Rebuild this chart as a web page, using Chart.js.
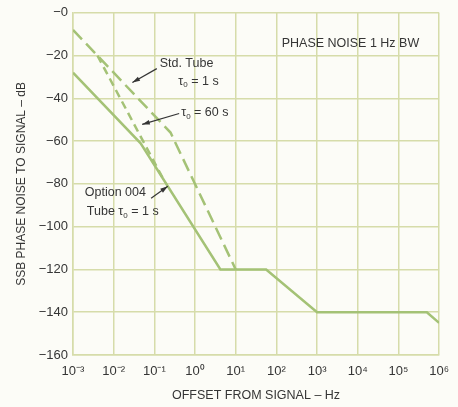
<!DOCTYPE html>
<html lang="en">

<head>
    <meta charset="UTF-8">
    <title>Phase noise</title>
    <script src="https://cdn.jsdelivr.net/npm/chart.js"></script>
    <style>
        body { margin: 0; background: #fcfcf7; }
    </style>
</head>

<body>
    <canvas id="grafico" width="458" height="407"></canvas>
</body>

</html>
<script>
    // valores
    const xTicks = [1e-3, 1e-2, 1e-1, 1e0, 1e1, 1e2, 1e3, 1e4, 1e5, 1e6];
    const xTickLabels = ['10⁻³', '10⁻²', '10⁻¹', '10⁰', '10¹', '10²', '10³', '10⁴', '10⁵', '10⁶'];
    const yTicks = [0, -20, -40, -60, -80, -100, -120, -140, -160];

    const freqOpt = [0.001, 0.046, 4.2, 56, 1000, 500000, 1000000];
    const noiseOpt = [-28, -61, -120, -120, -140, -140, -145];
    const freqStd = [0.001, 0.25, 10];
    const noiseStd = [-8, -56, -120];
    const freq60 = [0.004, 0.18];
    const noise60 = [-20, -79];

    const verde = '#a4c276';
    const grade = '#d6dcaa';
    const texto = '#353535';
    const fonte = "'Liberation Sans', Arial, sans-serif";

    function pontos(xs, ys) {
        return xs.map((x, i) => ({ x: x, y: ys[i] }));
    }

    // textos e setas
    const anotacoes = {
        id: 'anotacoes',
        afterDatasetsDraw(chart) {
            const ctx = chart.ctx;
            const sx = chart.scales.x, sy = chart.scales.y;
            const p = (lx, db) => [sx.getPixelForValue(Math.pow(10, lx)), sy.getPixelForValue(db)];

            function escreve(partes, lx, db) {
                let [x, y] = p(lx, db);
                ctx.save();
                ctx.fillStyle = texto;
                ctx.textBaseline = 'middle';
                ctx.textAlign = 'left';
                partes.forEach(pt => {
                    ctx.font = (pt.sub ? '8px ' : '12.5px ') + fonte;
                    ctx.fillText(pt.t, x, pt.sub ? y + 4 : y);
                    x += ctx.measureText(pt.t).width;
                });
                ctx.restore();
            }

            function seta(a, b) {
                const [x1, y1] = p(a[0], a[1]);
                const [x2, y2] = p(b[0], b[1]);
                const ang = Math.atan2(y2 - y1, x2 - x1);
                ctx.save();
                ctx.strokeStyle = texto;
                ctx.fillStyle = texto;
                ctx.lineWidth = 1.2;
                ctx.beginPath();
                ctx.moveTo(x1, y1);
                ctx.lineTo(x2, y2);
                ctx.stroke();
                ctx.beginPath();
                ctx.moveTo(x2, y2);
                ctx.lineTo(x2 - 8 * Math.cos(ang - 0.3), y2 - 8 * Math.sin(ang - 0.3));
                ctx.lineTo(x2 - 8 * Math.cos(ang + 0.3), y2 - 8 * Math.sin(ang + 0.3));
                ctx.closePath();
                ctx.fill();
                ctx.restore();
            }

            escreve([{ t: 'PHASE NOISE 1 Hz BW' }], 2.13, -14.5);
            escreve([{ t: 'Std. Tube' }], -0.87, -23.8);
            escreve([{ t: 'τ' }, { t: '0', sub: true }, { t: ' = 1 s' }], -0.41, -32);
            escreve([{ t: 'τ' }, { t: '0', sub: true }, { t: ' = 60 s' }], -0.34, -46.6);
            escreve([{ t: 'Option 004' }], -2.71, -84);
            escreve([{ t: 'Tube τ' }, { t: '0', sub: true }, { t: ' = 1 s' }], -2.66, -93);

            seta([-0.94, -26.1], [-1.54, -32.6]);
            seta([-0.39, -47.1], [-1.30, -52.2]);
            seta([-1.08, -86.7], [-0.67, -81.1]);
        }
    };

    const ctx = document.getElementById('grafico');

    new Chart(ctx, {
        type: 'line',
        data: {
            datasets: [{
                label: 'Option 004 Tube τ0 = 1 s',
                data: pontos(freqOpt, noiseOpt),
                borderColor: verde,
                borderWidth: 2.5,
                pointRadius: 0
            }, {
                label: 'Std. Tube τ0 = 1 s',
                data: pontos(freqStd, noiseStd),
                borderColor: verde,
                borderWidth: 2.5,
                borderDash: [13, 6],
                pointRadius: 0
            }, {
                label: 'τ0 = 60 s',
                data: pontos(freq60, noise60),
                borderColor: verde,
                borderWidth: 2.5,
                borderDash: [8, 5],
                pointRadius: 0
            }]
        },
        options: {
            responsive: false,
            animation: false,
            devicePixelRatio: 1,
            layout: { padding: { left: 0, right: 11, top: 12, bottom: 0 } },
            plugins: {
                legend: { display: false },
                tooltip: { enabled: false }
            },
            scales: {
                x: {
                    type: 'logarithmic',
                    min: 1e-3,
                    max: 1e6,
                    afterBuildTicks: s => { s.ticks = xTicks.map(v => ({ value: v })); },
                    afterFit: s => { s.height = 52; },
                    grid: { color: grade, lineWidth: 1.5, drawTicks: false },
                    border: { color: grade, width: 1.5 },
                    ticks: {
                        color: texto,
                        padding: 9,
                        maxRotation: 0,
                        autoSkip: false,
                        font: { family: fonte, size: 13 },
                        callback: (v) => xTickLabels[xTicks.findIndex(t => Math.abs(Math.log10(t) - Math.log10(v)) < 0.01)]
                    },
                    title: {
                        display: true,
                        text: 'OFFSET FROM SIGNAL – Hz',
                        color: texto,
                        font: { family: fonte, size: 12.5 },
                        padding: { top: 0, bottom: 4 }
                    }
                },
                y: {
                    min: -160,
                    max: 0,
                    afterBuildTicks: s => { s.ticks = yTicks.map(v => ({ value: v })); },
                    afterFit: s => { s.width = 73; },
                    grid: { color: grade, lineWidth: 1.5, drawTicks: false },
                    border: { color: grade, width: 1.5 },
                    ticks: {
                        color: texto,
                        padding: 5,
                        font: { family: fonte, size: 13 },
                        callback: v => '−' + Math.abs(v)
                    },
                    title: {
                        display: true,
                        text: 'SSB PHASE NOISE TO SIGNAL – dB',
                        color: texto,
                        font: { family: fonte, size: 12 },
                        padding: { top: 14, bottom: 0 }
                    }
                }
            }
        },
        plugins: [anotacoes]
    });
</script>
